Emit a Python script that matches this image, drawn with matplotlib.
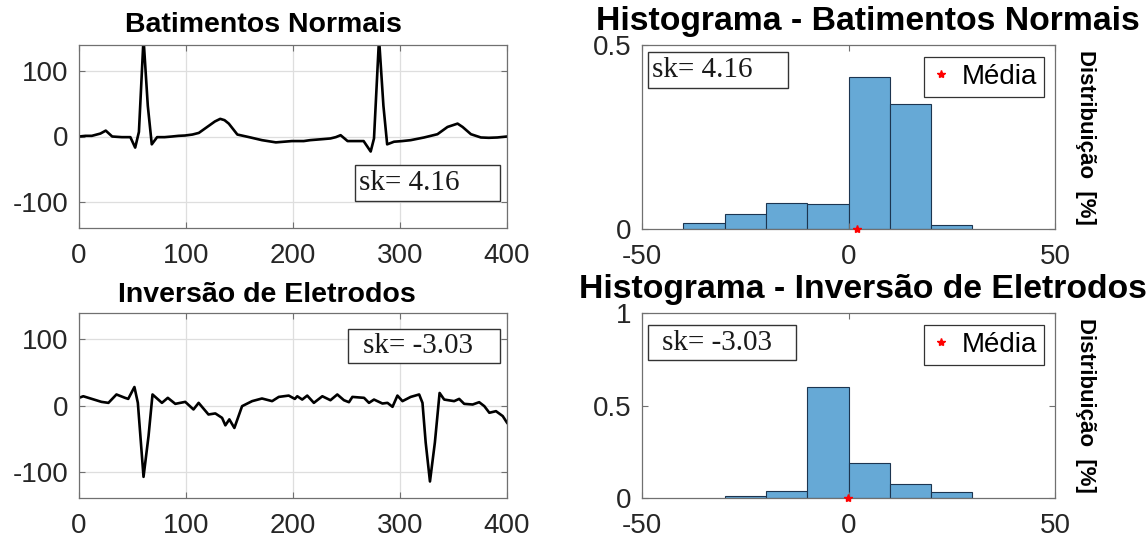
import matplotlib
matplotlib.use('Agg')
import matplotlib.pyplot as plt
from matplotlib.patches import Rectangle
import numpy as np

# ---------------- data ----------------
t_norm = [0, 6, 12, 20, 25, 31, 40, 48, 52.5, 56, 60.3, 64.3, 68, 73, 80, 87, 93, 99, 106,
          112, 121, 127, 132, 136, 140, 148, 159, 171, 184, 199, 210, 216, 228, 235, 240,
          244.5, 251, 258, 266, 272.6, 275.7, 280.4, 284.5, 288, 294.4, 302, 310, 322.5,
          335, 344.4, 353.8, 358.5, 366.3, 375.6, 383, 391, 400]
v_norm = [0, 1, 1, 4.5, 9, 0, -1, -1, -17, 7, 150, 47, -12, -1, -1, 0, 1, 1.5, 3,
          5.5, 16, 23, 27, 25, 19.7, 3, -1, -5.6, -9, -7, -7, -5.6, -4, -3, -1,
          2, -7, -7, -7, -23, -3, 150, 47, -12, -8, -7, -5.6, -1.5,
          3.5, 14.6, 19.7, 14.6, 3.5, -1.5, -2, -1.5, 0]

t_inv = [0, 4, 12, 21, 27.5, 35, 43, 46, 51.8, 55, 60.3, 65, 68.7, 77.5, 83, 90, 99.3,
         107, 111.8, 121, 127.4, 133.7, 136.8, 140.5, 145.2, 152.4, 161.8, 171, 180.5,
         186.7, 196, 201.7, 204, 208.6, 213.3, 219.5, 227.4, 235, 241.4, 247.6, 252.3,
         255.5, 266.4, 271, 275.7, 283.6, 288.3, 293, 297.6, 302.3, 310, 317.9, 321, 324,
         328, 332.6, 337, 341.3, 350.6, 355.3, 360, 367.9, 374, 378.8, 383.5, 389.7, 396, 400]
v_inv = [11.6, 14, 10, 5.5, 4, 16.7, 11.6, 10, 28, 4, -108, -46, 16.7, 4, 11.6, 2.5, 5.5,
         -6, 4, -13.6, -12, -18.7, -30, -21, -34, -1, 6.6, 10.6, 6.6,
         13, 15, 10, 14, 9, 15, 4, 14, 8, 16.7, 8, 5,
         13, 11.6, 4, 9, 3, 4, -2, 15, 6.6, 13, 16.7, 4, -56,
         -115, -56, 19, 9, 6.6, 10, 2.5, 1.5, 5, -1, -11, -8.6, -16, -26]

edges_norm = [-40, -30, -20, -10, 0, 10, 20, 30]
hist_norm = [0.016, 0.040, 0.072, 0.067, 0.414, 0.340, 0.011]
edges_inv = [-30, -20, -10, 0, 10, 20, 30]
hist_inv = [0.011, 0.040, 0.598, 0.187, 0.077, 0.034]
mean_norm = 2.0
mean_inv = -0.2

sk_norm = "sk= 4.16"
sk_inv = "sk= -3.03"

titles = ["Batimentos Normais", "Inversão de Eletrodos",
          "Histograma - Batimentos Normais", "Histograma - Inversão de Eletrodos"]
ecg_xticks = [0, 100, 200, 300, 400]
ecg_yticks = [-100, 0, 100]
hist_xticks = [-50, 0, 50]
hist_yticks_top = [0, 0.5]
hist_yticklabels_top = ['0', '0.5']
hist_yticks_bot = [0, 0.5, 1]
hist_yticklabels_bot = ['0', '0.5', '1']

# ---------------- figure ----------------
plt.rcParams['font.family'] = ['Liberation Sans', 'DejaVu Sans']
plt.rcParams['axes.unicode_minus'] = False
W, H = 1148, 548
fig = plt.figure(figsize=(W / 100, H / 100), dpi=100)


def ax_px(l, t, r, b):
    return fig.add_axes([l / W, 1 - b / H, (r - l) / W, (b - t) / H])


SPINE = '#707070'
TXT = '#262626'


def style(ax):
    for s in ax.spines.values():
        s.set_color(SPINE)
        s.set_linewidth(0.9)
    ax.tick_params(direction='in', length=4, width=0.8, color=SPINE,
                   top=True, right=True, labelsize=20, labelcolor=TXT)
    ax.tick_params(axis='x', pad=11)
    ax.tick_params(axis='y', pad=7.5)


def box_px(l, t, r, b, text, tx):
    fig.add_artist(Rectangle((l / W, 1 - b / H), (r - l) / W, (b - t) / H,
                             transform=fig.transFigure, facecolor='white',
                             edgecolor='#333333', linewidth=1.0, zorder=10))
    fig.text(tx / W, 1 - (t + b) / 2 / H, text, ha='left', va='center',
             fontsize=21, family=['Liberation Serif', 'DejaVu Serif'],
             color='#1a1a1a', zorder=11)


ax1 = ax_px(79, 45, 507, 228)
ax2 = ax_px(79, 313, 507, 498)
ax3 = ax_px(642, 45, 1055, 229)
ax4 = ax_px(642, 313, 1055, 498)

for ax, t, v, title, tx, pad in [(ax1, t_norm, v_norm, titles[0], 0.431, 9),
                                 (ax2, t_inv, v_inv, titles[1], 0.44, 8)]:
    style(ax)
    ax.plot(t, v, color='black', linewidth=1.9)
    ax.set_xlim(0, 400)
    ax.set_ylim(-140, 140)
    ax.set_xticks(ecg_xticks)
    ax.set_yticks(ecg_yticks)
    ax.grid(True, color='#dedede', linewidth=0.9)
    ax.set_axisbelow(True)
    ax.set_title(title, fontsize=20.5, fontweight='bold', pad=pad, x=tx)

for ax, edges, h, m, title, yt, ytl, ylim, tx, pad in [
        (ax3, edges_norm, hist_norm, mean_norm, titles[2], hist_yticks_top,
         hist_yticklabels_top, 0.5, 0.547, 11),
        (ax4, edges_inv, hist_inv, mean_inv, titles[3], hist_yticks_bot,
         hist_yticklabels_bot, 1.0, 0.535, 10.5)]:
    style(ax)
    ax.bar(edges[:-1], h, width=np.diff(edges), align='edge', color='#66a9d6',
           edgecolor='#1c3550', linewidth=0.8)
    ax.plot([m], [0], linestyle='none', marker='*', color='red', markersize=6,
            clip_on=False, zorder=5, label='Média')
    ax.set_xlim(-50, 50)
    ax.set_ylim(0, ylim)
    ax.set_xticks(hist_xticks)
    ax.set_yticks(yt)
    ax.set_yticklabels(ytl)
    ax.set_title(title, fontsize=24.3, fontweight='bold', pad=pad, x=tx)
    leg = ax.legend(loc='upper right', bbox_to_anchor=(1 - 11 / 413, 1 - 12 / 184),
                    borderaxespad=0, fontsize=20, frameon=True, fancybox=False,
                    handlelength=0.7, handletextpad=0.4, borderpad=0.25, framealpha=1)
    leg.get_frame().set_edgecolor('#333333')
    leg.get_frame().set_linewidth(0.9)
    ax.text(1.075, 0.5, 'Distribuição  [%]', rotation=-90, transform=ax.transAxes,
            ha='center', va='center', fontsize=16, fontweight='bold', color='black')

box_px(355, 165, 500, 201, sk_norm, 359)
box_px(348, 329, 500, 363, sk_inv, 363)
box_px(648, 52, 788, 88, sk_norm, 652)
box_px(648, 325, 796, 360, sk_inv, 662)

fig.savefig('out.png', dpi=100)
